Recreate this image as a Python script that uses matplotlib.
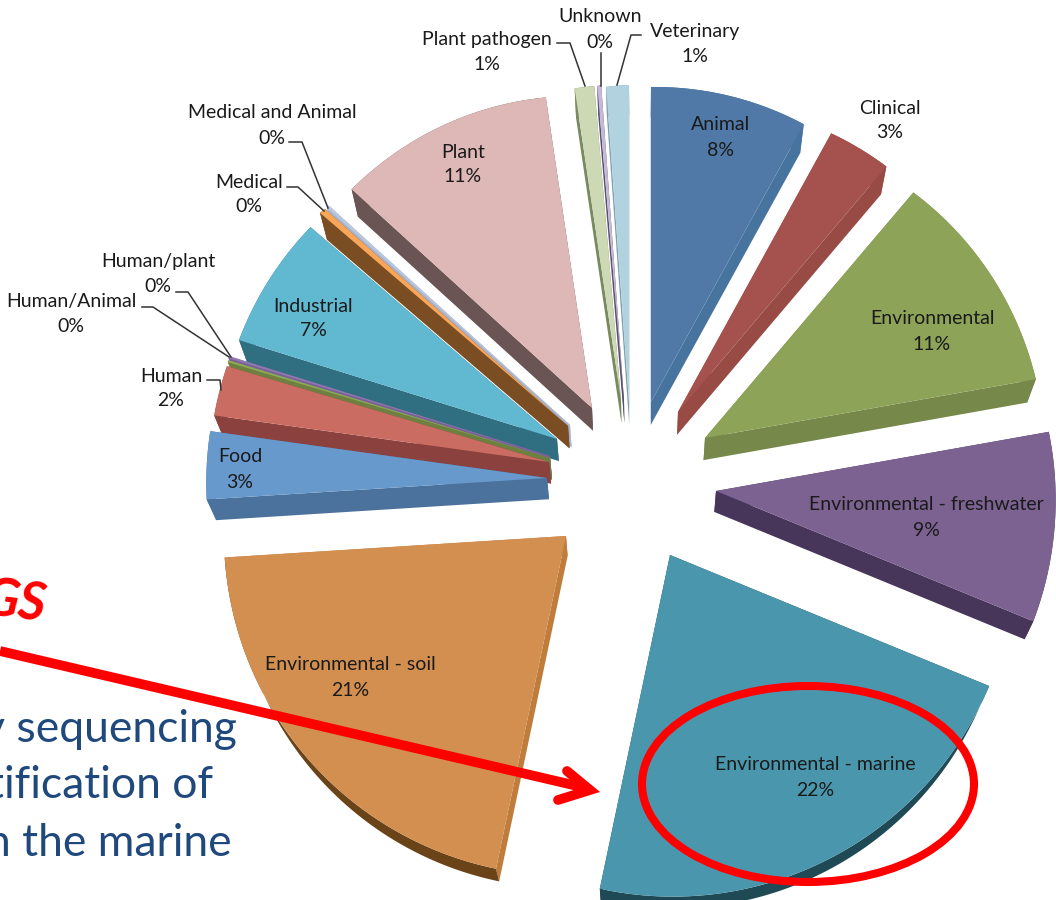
import numpy as np
import matplotlib
matplotlib.use('Agg')
import matplotlib.pyplot as plt
from matplotlib.patches import Polygon, Ellipse

plt.rcParams['font.family'] = ['Lato', 'DejaVu Sans']

# Sources and their share of the genomes, clockwise from twelve o'clock
sources = ['Animal', 'Clinical', 'Environmental', 'Environmental - freshwater',
           'Environmental - marine', 'Environmental - soil', 'Food', 'Human',
           'Human/Animal', 'Human/plant', 'Industrial', 'Medical',
           'Medical and Animal', 'Plant', 'Plant pathogen', 'Unknown', 'Veterinary']
shares = [8.0, 3.2, 11.0, 9.0, 22.1, 20.7, 3.2, 2.4, 0.1, 0.1, 6.5, 0.3, 0.15,
          10.9, 1.0, 0.2, 1.15]
shown_pct = [8, 3, 11, 9, 22, 21, 3, 2, 0, 0, 7, 0, 0, 11, 1, 0, 1]

# Exploded layout: where each slice's point sits, and its radius at both edges
apex_x = [651, 678, 705, 716, 670, 566, 547, 549, 550, 550, 557, 568, 570, 592, 621, 624, 629]
apex_y = [402, 412, 438, 491, 555, 536, 478, 462, 458, 456, 439, 426, 425, 408, 400, 400, 402]
radius_start = [315, 318, 322, 338, 345, 340, 341, 338, 336, 336, 333, 327, 326, 325, 315, 315, 316]
radius_end = [317, 322, 336, 343, 341, 342, 340, 336, 336, 335, 325, 326, 326, 314, 315, 316, 317]

top_colors = ['#5079A8', '#A5524E', '#8DA357', '#7C6291', '#4A97AD', '#D38F50',
              '#6899CC', '#CB6C63', '#8EA85A', '#9078B0', '#60B9D1', '#F9A658',
              '#B8C6DE', '#DEB8B6', '#CDD9B5', '#C4BAD6', '#B0D3DF']
wall_colors = ['#47749F', '#984A45', '#76894A', '#47365A', '#1F4A55', '#C07C3A',
               '#4A729C', '#8B413D', '#6E8040', '#7A619A', '#306F82', '#7A4D22',
               '#A8B4CC', '#6A5554', '#7A8A60', '#5A5070', '#7FA0AC']
arc_colors = list(wall_colors)
arc_colors[5] = '#6B4319'

# Label centres (first line) and the leader lines for the outside labels
label_x = [721, 890, 932, 926, 815, 350, 240, 171, 71, 158, 313, 249, 272, 463, 487, 600, 695]
label_y = [125, 108, 319, 505, 765, 665, 457, 376, 301, 262, 306, 182, 113, 152, 40, 17, 31]
leaders = [
    ([289, 302, 328], [142, 142, 208]),
    ([287, 298, 324], [187, 187, 211]),
    ([176, 188, 231], [292, 292, 357]),
    ([142, 153, 229], [307, 307, 357]),
    ([207, 220, 221], [380, 380, 390]),
    ([557, 570, 585], [43, 43, 86]),
    ([601, 601], [53, 86]),
    ([641, 631, 617], [35, 35, 85]),
]


def extrude(pts):
    # lower face of a slice: pulled toward the middle and dropped, less so near the viewer
    pts = np.asarray(pts, dtype=float)
    low = pts.copy()
    low[:, 0] = pts[:, 0] - 0.022 * (pts[:, 0] - 640)
    low[:, 1] = pts[:, 1] + 29 - 0.022 * (pts[:, 1] - 125)
    return low


fig = plt.figure(figsize=(10.56, 9), dpi=100)
ax = fig.add_axes([0, 0, 1, 1])
ax.set_xlim(0, 1056)
ax.set_ylim(900, 0)
ax.axis('off')

fractions = np.array(shares) / sum(shares)
edges = np.concatenate([[0], np.cumsum(fractions)]) * 2 * np.pi

slices = []
for i in range(len(shares)):
    n = max(int(np.degrees(edges[i + 1] - edges[i])) * 2, 2)
    theta = np.linspace(edges[i], edges[i + 1], n)
    r = np.linspace(radius_start[i], radius_end[i], n)
    arc = np.column_stack([apex_x[i] + r * np.sin(theta), apex_y[i] - r * np.cos(theta)])
    slices.append((arc[:, 1].mean() + apex_y[i], i, arc))

# Far slices first so the nearer ones sit on top of their walls
for order, (_, i, arc) in enumerate(sorted(slices, key=lambda s: s[0])):
    apex = np.array([[apex_x[i], apex_y[i]]], dtype=float)
    low_arc = extrude(arc)
    low_apex = extrude(apex)
    z = 2 + order / 100
    for tip, low_tip in ((arc[:1], low_arc[:1]), (arc[-1:], low_arc[-1:])):
        wall = np.vstack([apex, tip, low_tip, low_apex])
        ax.add_patch(Polygon(wall, fc=wall_colors[i], ec='none', zorder=z))
    strip = np.vstack([arc, low_arc[::-1]])
    ax.add_patch(Polygon(strip, fc=arc_colors[i], ec='none', zorder=z))
    ax.add_patch(Polygon(np.vstack([apex, arc]), fc=top_colors[i], ec='none', zorder=z + 0.001))

# Labels: name over percentage
for i, name in enumerate(sources):
    ax.text(label_x[i], label_y[i], name, ha='center', va='center', fontsize=14,
            color='#1A1A1A', zorder=5)
    ax.text(label_x[i], label_y[i] + 25, f'{shown_pct[i]}%', ha='center', va='center',
            fontsize=14, color='#1A1A1A', zorder=5)
for xs, ys in leaders:
    ax.plot(xs, ys, color='#333333', lw=1.1, zorder=4)

# Slide text behind the chart, running off the left edge
ax.text(49, 602, 'GS', ha='right', va='center', fontsize=38, color='#FF0000',
        fontweight='bold', style='italic', rotation=-7, zorder=1)
ax.text(237, 730, 'y sequencing', ha='right', va='center', fontsize=32, color='#1F497D', zorder=1)
ax.text(213, 786, 'tification of', ha='right', va='center', fontsize=32, color='#1F497D', zorder=1)
ax.text(232, 844, 'n the marine', ha='right', va='center', fontsize=32, color='#1F497D', zorder=1)

# Red call-out over the marine slice
ax.plot([0, 586], [651, 788], color='#FF0000', lw=7, solid_capstyle='butt', zorder=6)
ax.plot([567, 590, 558], [771, 790, 800], color='#FF0000', lw=7, solid_capstyle='round',
        solid_joinstyle='miter', zorder=6)
ax.add_patch(Ellipse((808, 784), 332, 196, fc='none', ec='#FF0000', lw=5.8, zorder=6))

fig.savefig('out.png', dpi=100)
